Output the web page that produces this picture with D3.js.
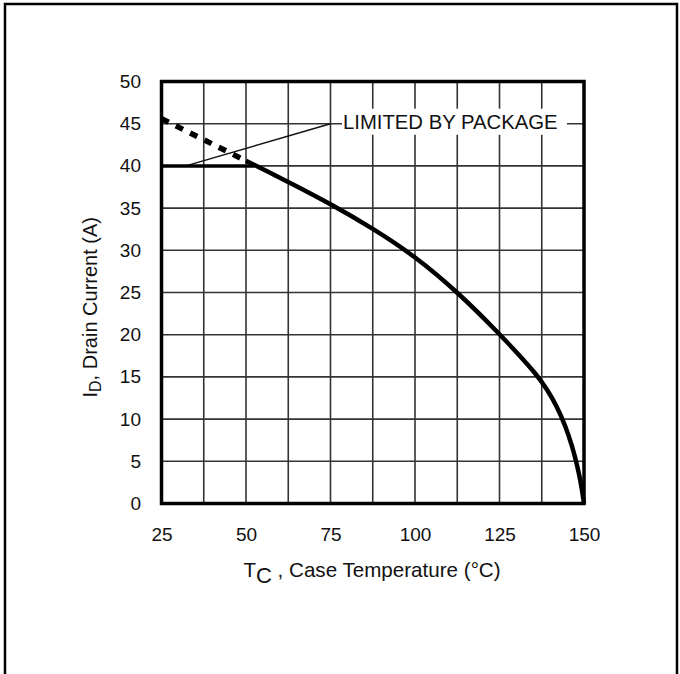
<!DOCTYPE html>
<html>
<head>
<meta charset="utf-8">
<script src="https://cdn.jsdelivr.net/npm/d3@7"></script>
<style>
  html, body { margin: 0; padding: 0; background: #fff; }
  svg { display: block; }
  text { font-family: "Liberation Sans", Arial, Helvetica, sans-serif; fill: #111; }
</style>
</head>
<body>
<svg id="chart" width="680" height="674"></svg>
<script>
// ---- data ----
const xTicks = [25, 50, 75, 100, 125, 150];
const yTicks = [0, 5, 10, 15, 20, 25, 30, 35, 40, 45, 50];
const xGrid = [25, 37.5, 50, 62.5, 75, 87.5, 100, 112.5, 125, 137.5, 150];
const yGrid = [0, 5, 10, 15, 20, 25, 30, 35, 40, 45, 50];

// silicon-limited curve (dashed part above package limit)
const dashedT = [25, 37.5, 50];
const dashedI = [45.6, 43.1, 40.6];

// solid curve
const curveT = [50, 56, 62.5, 75, 87.5, 100, 112.5, 125, 131, 135.5, 139, 142, 144.5, 146.5, 148, 149.2, 150];
const curveI = [40.6, 39.4, 38.1, 35.5, 32.6, 29.3, 25.1, 20.1, 17.5, 15.5, 13.6, 11.5, 9.2, 6.8, 4.5, 2.2, 0];

// package limit
const packageT = [25, 52.5];
const packageI = [40, 40];

// annotation
const annotationText = "LIMITED BY PACKAGE";
const leaderT = [32.2, 75];
const leaderI = [40, 45];

// ---- drawing ----
const svg = d3.select("#chart");

// outer frame
svg.append("rect")
  .attr("x", 5).attr("y", 4).attr("width", 672).attr("height", 720)
  .attr("fill", "none").attr("stroke", "#000").attr("stroke-width", 2.5);

const x = d3.scaleLinear().domain([25, 150]).range([161.5, 584]);
const y = d3.scaleLinear().domain([0, 50]).range([503.5, 81.5]);

// grid
const grid = svg.append("g").attr("stroke", "#333").attr("stroke-width", 1.6);
grid.selectAll("line.v").data(xGrid).join("line")
  .attr("x1", d => x(d)).attr("x2", d => x(d))
  .attr("y1", y(0)).attr("y2", y(50));
grid.selectAll("line.h").data(yGrid).join("line")
  .attr("x1", x(25)).attr("x2", x(150))
  .attr("y1", d => y(d)).attr("y2", d => y(d));

// leader line
svg.append("line")
  .attr("x1", x(leaderT[0])).attr("y1", y(leaderI[0]))
  .attr("x2", x(leaderT[1])).attr("y2", y(leaderI[1]))
  .attr("stroke", "#111").attr("stroke-width", 1.5);

// annotation background + text
const annX = x(75) + 12.5;
svg.append("rect")
  .attr("x", annX - 1).attr("y", y(45) - 15)
  .attr("width", 225).attr("height", 26)
  .attr("fill", "#fff");
svg.append("text")
  .attr("x", annX).attr("y", y(45) + 5.5)
  .attr("font-size", 20.3)
  .text(annotationText);

const line = d3.line().x(d => x(d[0])).y(d => y(d[1]));

// package limit
svg.append("path")
  .attr("d", line(packageT.map((t, i) => [t, packageI[i]])))
  .attr("fill", "none").attr("stroke", "#000").attr("stroke-width", 3.5);

// dashed
svg.append("path")
  .attr("d", line(dashedT.map((t, i) => [t, dashedI[i]])))
  .attr("fill", "none").attr("stroke", "#000").attr("stroke-width", 5.5)
  .attr("stroke-dasharray", "8,8");

// solid curve
const smooth = d3.line().x(d => x(d[0])).y(d => y(d[1])).curve(d3.curveBasis);
svg.append("path")
  .attr("d", smooth(curveT.map((t, i) => [t, curveI[i]])))
  .attr("fill", "none").attr("stroke", "#000").attr("stroke-width", 4.5)
  .attr("stroke-linejoin", "round");

// plot border
svg.append("rect")
  .attr("x", x(25)).attr("y", y(50))
  .attr("width", x(150) - x(25)).attr("height", y(0) - y(50))
  .attr("fill", "none").attr("stroke", "#000").attr("stroke-width", 3.5);

// axes (labels only)
const xAxis = svg.append("g")
  .attr("transform", `translate(0,${y(0)})`)
  .call(d3.axisBottom(x).tickValues(xTicks).tickSize(0).tickPadding(24).tickFormat(d3.format("d")));
xAxis.select(".domain").remove();
xAxis.selectAll("text").attr("font-size", 19).attr("fill", "#111")
  .attr("font-family", '"Liberation Sans", Arial, sans-serif');

const yAxis = svg.append("g")
  .attr("transform", `translate(${x(25)},0)`)
  .call(d3.axisLeft(y).tickValues(yTicks).tickSize(0).tickPadding(20.5).tickFormat(d3.format("d")));
yAxis.select(".domain").remove();
yAxis.selectAll("text").attr("font-size", 19).attr("fill", "#111")
  .attr("font-family", '"Liberation Sans", Arial, sans-serif');

// x title
const xt = svg.append("text")
  .attr("x", 372).attr("y", 577)
  .attr("text-anchor", "middle")
  .attr("font-size", 20.6);
xt.append("tspan").text("T");
xt.append("tspan").attr("dy", 6).attr("font-size", 22).text("C");
xt.append("tspan").attr("dy", -6).text(" , Case Temperature (°C)");

// y title
const yt = svg.append("text")
  .attr("transform", `translate(97,${y(0) - 106}) rotate(-90)`)
  .attr("text-anchor", "start")
  .attr("font-size", 20);
yt.append("tspan").text("I");
yt.append("tspan").attr("dy", 4).attr("font-size", 16).text("D");
yt.append("tspan").attr("dy", -4).text(", Drain Current  (A)");
</script>
</body>
</html>
